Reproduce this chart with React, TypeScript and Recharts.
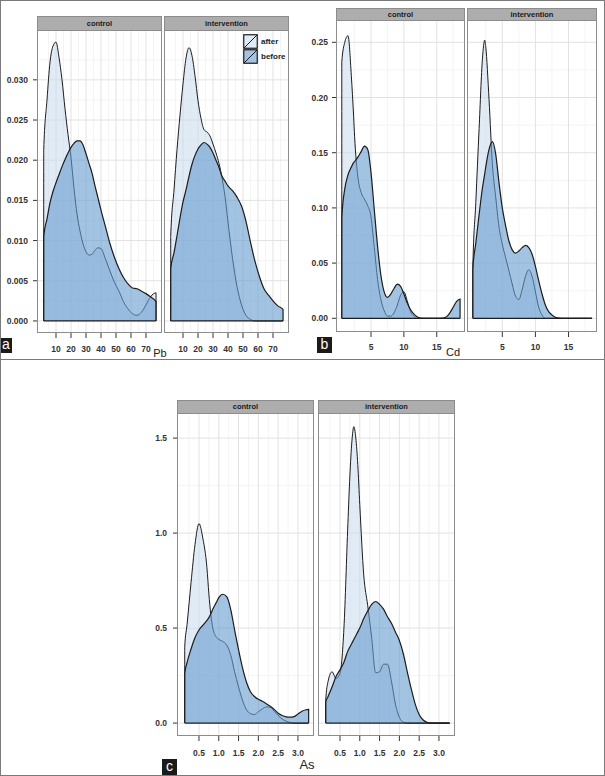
import React from 'react';
import { AreaChart, Area, XAxis, YAxis, CartesianGrid, ReferenceLine } from 'recharts';

// ---------- Pb (panel a) ----------
const pbX = [1.8, 4, 6, 8, 10, 12, 14, 16, 18, 20, 22, 24, 26, 28, 30, 32, 34, 36, 38, 40, 43, 46, 49, 52, 55, 58, 61, 64, 67, 70, 73, 76.7];
const pbControlAfter = [0.0212, 0.0275, 0.0322, 0.0342, 0.0347, 0.0328, 0.0300, 0.0264, 0.0232, 0.0203, 0.0165, 0.0133, 0.0112, 0.0096, 0.0086, 0.0082, 0.0083, 0.0088, 0.0091, 0.0090, 0.0077, 0.0062, 0.0048, 0.0037, 0.0024, 0.0015, 0.0009, 0.0007, 0.0011, 0.0020, 0.0030, 0.0035];
const pbControlBefore = [0.0105, 0.0127, 0.0147, 0.0161, 0.0172, 0.0182, 0.0192, 0.0201, 0.0209, 0.0216, 0.0221, 0.0224, 0.0224, 0.0219, 0.0208, 0.0196, 0.0184, 0.0168, 0.0153, 0.0138, 0.0117, 0.0096, 0.0079, 0.0065, 0.0054, 0.0046, 0.0041, 0.0040, 0.0037, 0.0034, 0.0030, 0.0024];
const pbInterventionAfter = [0.0105, 0.0163, 0.0213, 0.0256, 0.0295, 0.0327, 0.0340, 0.0330, 0.0305, 0.0274, 0.0252, 0.0238, 0.0235, 0.0230, 0.0220, 0.0209, 0.0196, 0.0178, 0.0155, 0.0123, 0.0078, 0.0043, 0.0020, 0.0007, 0.0002, 0, 0, 0, 0, 0, 0, 0];
const pbInterventionBefore = [0.0065, 0.0085, 0.0106, 0.0128, 0.0148, 0.0163, 0.0180, 0.0195, 0.0206, 0.0214, 0.0219, 0.0222, 0.0220, 0.0216, 0.0209, 0.0200, 0.0191, 0.0180, 0.0174, 0.0168, 0.0162, 0.0154, 0.0143, 0.0124, 0.0098, 0.0074, 0.0055, 0.0040, 0.0032, 0.0025, 0.0019, 0.0014];
const pbXTicks = [10, 20, 30, 40, 50, 60, 70];
const pbYTicks = [0, 0.005, 0.01, 0.015, 0.02, 0.025, 0.03];
const pbXMinor = [5, 15, 25, 35, 45, 55, 65, 75];
const pbYMinor = [0.0025, 0.0075, 0.0125, 0.0175, 0.0225, 0.0275, 0.0325];

// ---------- Cd (panel b) ----------
const cdX = [0.55, 1, 1.5, 2, 2.35, 2.5, 3, 3.5, 4, 4.5, 5, 5.5, 6, 6.5, 7, 7.5, 8, 8.5, 9, 9.5, 10, 10.5, 11, 11.5, 12, 12.5, 13, 14, 15, 16, 16.5, 17, 17.5, 18, 18.55];
const cdControlAfter = [0.232, 0.250, 0.256, 0.220, 0.183, 0.165, 0.128, 0.114, 0.108, 0.102, 0.092, 0.064, 0.035, 0.017, 0.007, 0.002, 0.002, 0.005, 0.012, 0.021, 0.024, 0.016, 0.006, 0.002, 0, 0, 0, 0, 0, 0, 0, 0, 0, 0, 0];
const cdControlBefore = [0.091, 0.117, 0.130, 0.137, 0.141, 0.142, 0.146, 0.151, 0.156, 0.153, 0.132, 0.098, 0.065, 0.039, 0.024, 0.019, 0.022, 0.027, 0.031, 0.029, 0.022, 0.014, 0.008, 0.004, 0.0015, 0.0003, 0, 0, 0, 0.0003, 0.0015, 0.005, 0.010, 0.015, 0.0175];
const cdInterventionAfter = [0.045, 0.105, 0.172, 0.235, 0.252, 0.246, 0.198, 0.140, 0.110, 0.083, 0.067, 0.055, 0.043, 0.031, 0.020, 0.017, 0.026, 0.038, 0.044, 0.038, 0.024, 0.010, 0.003, 0, 0, 0, 0, 0, 0, 0, 0, 0, 0, 0, 0];
const cdInterventionBefore = [0.045, 0.068, 0.094, 0.118, 0.131, 0.137, 0.153, 0.160, 0.149, 0.123, 0.100, 0.084, 0.070, 0.062, 0.059, 0.061, 0.064, 0.066, 0.064, 0.058, 0.047, 0.034, 0.022, 0.012, 0.006, 0.003, 0.001, 0, 0, 0, 0, 0, 0, 0, 0];
const cdXTicks = [5, 10, 15];
const cdYTicks = [0, 0.05, 0.1, 0.15, 0.2, 0.25];
const cdXMinor = [2.5, 7.5, 12.5, 17.5];
const cdYMinor = [0.025, 0.075, 0.125, 0.175, 0.225];

// ---------- As (panel c) ----------
const asX = [0.14, 0.2, 0.3, 0.4, 0.5, 0.6, 0.7, 0.75, 0.8, 0.85, 0.9, 0.95, 1.0, 1.1, 1.2, 1.3, 1.4, 1.5, 1.6, 1.7, 1.8, 1.9, 2.0, 2.1, 2.2, 2.3, 2.4, 2.5, 2.6, 2.7, 2.8, 2.9, 3.0, 3.1, 3.2, 3.27];
const asControlAfter = [0.40, 0.52, 0.74, 0.94, 1.05, 0.97, 0.82, 0.68, 0.57, 0.50, 0.465, 0.45, 0.44, 0.43, 0.41, 0.36, 0.27, 0.19, 0.12, 0.07, 0.05, 0.045, 0.06, 0.075, 0.085, 0.084, 0.062, 0.040, 0.022, 0.010, 0.003, 0, 0, 0, 0, 0];
const asControlBefore = [0.26, 0.32, 0.39, 0.45, 0.49, 0.515, 0.54, 0.555, 0.575, 0.60, 0.62, 0.64, 0.66, 0.678, 0.665, 0.60, 0.49, 0.385, 0.29, 0.215, 0.165, 0.14, 0.125, 0.115, 0.102, 0.088, 0.072, 0.052, 0.040, 0.033, 0.031, 0.034, 0.048, 0.062, 0.070, 0.072];
const asInterventionAfter = [0.12, 0.22, 0.27, 0.235, 0.26, 0.50, 1.05, 1.30, 1.48, 1.56, 1.50, 1.36, 1.15, 0.78, 0.62, 0.45, 0.265, 0.27, 0.31, 0.31, 0.22, 0.10, 0.03, 0.005, 0, 0, 0, 0, 0, 0, 0, 0, 0, 0, 0, 0];
const asInterventionBefore = [0.11, 0.14, 0.19, 0.245, 0.28, 0.32, 0.38, 0.40, 0.42, 0.44, 0.46, 0.48, 0.50, 0.55, 0.59, 0.625, 0.64, 0.625, 0.60, 0.56, 0.525, 0.48, 0.435, 0.365, 0.27, 0.18, 0.10, 0.045, 0.016, 0.004, 0, 0, 0, 0, 0, 0];
const asXTicks = [0.5, 1.0, 1.5, 2.0, 2.5, 3.0];
const asYTicks = [0, 0.5, 1.0, 1.5];
const asXMinor = [0.25, 0.75, 1.25, 1.75, 2.25, 2.75, 3.25];
const asYMinor = [0.25, 0.75, 1.25];

const facetLabels = ['control', 'intervention'];
const legendLabels = ['after', 'before'];
const axisTitles = ['Pb', 'Cd', 'As'];
const panelTags = ['a', 'b', 'c'];

const FONT = '"Liberation Sans", Arial, Helvetica, sans-serif';
const AFTER_FILL = '#c6dbef';
const AFTER_OPACITY = 0.55;
const BEFORE_FILL = '#659bcf';
const BEFORE_OPACITY = 0.6;
const LINE = '#1c1c1c';

type Row = { x: number; after: number; before: number };

function buildRows(xs: number[], after: number[], before: number[]): Row[] {
  const n = xs.length;
  const rows = xs.map((x, i) => ({ x, after: after[i], before: before[i] }));
  // close the density polygons at both ends (vertical edges down to zero)
  return [{ x: xs[0], after: 0, before: 0 }, ...rows, { x: xs[n - 1], after: 0, before: 0 }];
}

type Rect = { x: number; y: number; w: number; h: number };

type FacetProps = {
  rows: Row[];
  xs: number[];
  plot: Rect;
  stripTop: number;
  label: string;
  showY: boolean;
  yAxisW: number;
  xAxisH: number;
  xDomain: [number, number];
  yDomain: [number, number];
  xTicks: number[];
  yTicks: number[];
  xMinor: number[];
  yMinor: number[];
  xFmt: (v: number) => string;
  yFmt: (v: number) => string;
  xTickMargin: number;
  yTickMargin: number;
};

const tickStyle = { fontSize: 8.5, fontWeight: 700, fill: '#333', fontFamily: FONT };

function Facet(p: FacetProps) {
  const yw = p.showY ? p.yAxisW : 0;
  const cw = p.plot.w + yw;
  const ch = p.plot.h + p.xAxisH;
  return (
    <>
      <div style={{ position: 'absolute', left: p.plot.x - yw, top: p.plot.y, width: cw, height: ch }}>
        <AreaChart width={cw} height={ch} data={p.rows} margin={{ top: 0, right: 0, bottom: 0, left: 0 }}>
          <CartesianGrid stroke="#f1f1f1" strokeWidth={0.8} horizontalValues={p.yMinor} verticalValues={p.xMinor} />
          <CartesianGrid stroke="#e2e2e2" strokeWidth={1} horizontalValues={p.yTicks} verticalValues={p.xTicks} />
          <XAxis
            type="number"
            dataKey="x"
            domain={p.xDomain}
            allowDataOverflow
            ticks={p.xTicks}
            interval={0}
            height={p.xAxisH}
            axisLine={false}
            tickLine={{ stroke: '#333', strokeWidth: 1 }}
            tickSize={5}
            tickMargin={p.xTickMargin}
            tick={tickStyle}
            tickFormatter={p.xFmt}
          />
          <YAxis
            type="number"
            domain={p.yDomain}
            allowDataOverflow
            ticks={p.yTicks}
            interval={0}
            hide={!p.showY}
            width={yw}
            axisLine={false}
            tickLine={{ stroke: '#333', strokeWidth: 1 }}
            tickSize={4}
            tickMargin={p.yTickMargin}
            tick={tickStyle}
            tickFormatter={p.yFmt}
          />
          <Area
            type="monotone"
            dataKey="after"
            baseValue={0}
            stroke={LINE}
            strokeWidth={1}
            fill={AFTER_FILL}
            fillOpacity={AFTER_OPACITY}
            dot={false}
            activeDot={false}
            isAnimationActive={false}
          />
          <Area
            type="monotone"
            dataKey="before"
            baseValue={0}
            stroke={LINE}
            strokeWidth={1.2}
            fill={BEFORE_FILL}
            fillOpacity={BEFORE_OPACITY}
            dot={false}
            activeDot={false}
            isAnimationActive={false}
          />
          <ReferenceLine
            segment={[{ x: p.xs[0], y: 0 }, { x: p.xs[p.xs.length - 1], y: 0 }]}
            stroke={LINE}
            strokeWidth={1.2}
          />
        </AreaChart>
      </div>
      <div
        style={{
          position: 'absolute',
          left: p.plot.x,
          top: p.plot.y,
          width: p.plot.w,
          height: p.plot.h,
          border: '1px solid #8c8c8c',
          boxSizing: 'border-box',
          pointerEvents: 'none',
        }}
      />
      <div
        style={{
          position: 'absolute',
          left: p.plot.x,
          top: p.stripTop,
          width: p.plot.w,
          height: p.plot.y - p.stripTop + 1,
          background: '#adadad',
          border: '1px solid #8c8c8c',
          boxSizing: 'border-box',
          display: 'flex',
          alignItems: 'center',
          justifyContent: 'center',
          fontFamily: FONT,
          fontSize: 7.5,
          fontWeight: 700,
          color: '#1a1a1a',
          lineHeight: 1,
        }}
      >
        {p.label}
      </div>
    </>
  );
}

function Tag({ text, left, top, w, h }: { text: string; left: number; top: number; w: number; h: number }) {
  return (
    <div
      style={{
        position: 'absolute',
        left,
        top,
        width: w,
        height: h,
        background: '#1a1a1a',
        color: '#fff',
        fontFamily: FONT,
        fontSize: 14,
        lineHeight: `${h - 2}px`,
        textAlign: 'center',
      }}
    >
      {text}
    </div>
  );
}

function AxisTitle({ text, cx, top, size }: { text: string; cx: number; top: number; size: number }) {
  return (
    <div
      style={{
        position: 'absolute',
        left: cx - 20,
        width: 40,
        top,
        textAlign: 'center',
        fontFamily: FONT,
        fontSize: size,
        lineHeight: `${size}px`,
        color: '#222',
      }}
    >
      {text}
    </div>
  );
}

function LegendKey({ fill, opacity }: { fill: string; opacity: number }) {
  return (
    <svg width={15} height={15} style={{ display: 'block' }}>
      <rect x={0} y={0} width={15} height={15} fill="#fff" />
      <rect x={0.75} y={0.75} width={13.5} height={13.5} fill={fill} fillOpacity={opacity} stroke={LINE} strokeWidth={1.2} />
      <line x1={1} y1={14} x2={14} y2={1} stroke={LINE} strokeWidth={1} />
    </svg>
  );
}

function DensityLegend({ left, top }: { left: number; top: number }) {
  const items = [
    { label: legendLabels[0], fill: AFTER_FILL, op: AFTER_OPACITY },
    { label: legendLabels[1], fill: BEFORE_FILL, op: BEFORE_OPACITY },
  ];
  return (
    <div style={{ position: 'absolute', left, top }}>
      {items.map((it) => (
        <div key={it.label} style={{ display: 'flex', alignItems: 'center', height: 15 }}>
          <LegendKey fill={it.fill} opacity={it.op} />
          <span style={{ marginLeft: 3, fontFamily: FONT, fontSize: 8, fontWeight: 700, color: '#222' }}>{it.label}</span>
        </div>
      ))}
    </div>
  );
}

const f3 = (v: number) => v.toFixed(3);
const f2 = (v: number) => v.toFixed(2);
const f1 = (v: number) => v.toFixed(1);
const f0 = (v: number) => String(v);

export default function App() {
  const pbC = buildRows(pbX, pbControlAfter, pbControlBefore);
  const pbI = buildRows(pbX, pbInterventionAfter, pbInterventionBefore);
  const cdC = buildRows(cdX, cdControlAfter, cdControlBefore);
  const cdI = buildRows(cdX, cdInterventionAfter, cdInterventionBefore);
  const asC = buildRows(asX, asControlAfter, asControlBefore);
  const asI = buildRows(asX, asInterventionAfter, asInterventionBefore);

  const pbCommon = {
    xs: pbX,
    stripTop: 16,
    yAxisW: 37,
    xAxisH: 20,
    xDomain: [-2.67, 80.67] as [number, number],
    yDomain: [-0.0015, 0.0362] as [number, number],
    xTicks: pbXTicks,
    yTicks: pbYTicks,
    xMinor: pbXMinor,
    yMinor: pbYMinor,
    xFmt: f0,
    yFmt: f3,
    xTickMargin: 8,
    yTickMargin: 5,
  };
  const cdCommon = {
    xs: cdX,
    stripTop: 8,
    yAxisW: 36,
    xAxisH: 20,
    xDomain: [-0.33, 19.3] as [number, number],
    yDomain: [-0.0124, 0.2702] as [number, number],
    xTicks: cdXTicks,
    yTicks: cdYTicks,
    xMinor: cdXMinor,
    yMinor: cdYMinor,
    xFmt: f0,
    yFmt: f2,
    xTickMargin: 7,
    yTickMargin: 4,
  };
  const asCommon = {
    xs: asX,
    stripTop: 400,
    yAxisW: 30,
    xAxisH: 22,
    xDomain: [-0.055, 3.405] as [number, number],
    yDomain: [-0.068, 1.632] as [number, number],
    xTicks: asXTicks,
    yTicks: asYTicks,
    xMinor: asXMinor,
    yMinor: asYMinor,
    xFmt: f1,
    yFmt: f1,
    xTickMargin: 9,
    yTickMargin: 6,
  };

  return (
    <div
      style={{
        position: 'absolute',
        left: 0,
        top: 0,
        width: 605,
        height: 776,
        background: '#fff',
        overflow: 'hidden',
        fontFamily: FONT,
      }}
    >
      <div style={{ position: 'absolute', left: 0, top: 0, width: 605, height: 359, overflow: 'hidden' }}>
        {/* panel a */}
        <Facet {...pbCommon} rows={pbC} plot={{ x: 37, y: 30, w: 125, h: 303 }} label={facetLabels[0]} showY />
        <Facet {...pbCommon} rows={pbI} plot={{ x: 164, y: 30, w: 125, h: 303 }} label={facetLabels[1]} showY={false} />
        <DensityLegend left={243} top={34} />
        <AxisTitle text={axisTitles[0]} cx={160} top={348} size={11} />
        <Tag text={panelTags[0]} left={0} top={338} w={12} h={15} />

        {/* panel b */}
        <Facet {...cdCommon} rows={cdC} plot={{ x: 336, y: 20, w: 129, h: 312 }} label={facetLabels[0]} showY />
        <Facet {...cdCommon} rows={cdI} plot={{ x: 467, y: 20, w: 130, h: 312 }} label={facetLabels[1]} showY={false} />
        <AxisTitle text={axisTitles[1]} cx={453} top={347} size={11} />
        <Tag text={panelTags[1]} left={317} top={337} w={15} h={16} />
      </div>

      {/* panel c */}
      <Facet {...asCommon} rows={asC} plot={{ x: 177, y: 413, w: 137, h: 323 }} label={facetLabels[0]} showY />
      <Facet {...asCommon} rows={asI} plot={{ x: 318, y: 413, w: 137, h: 323 }} label={facetLabels[1]} showY={false} />
      <AxisTitle text={axisTitles[2]} cx={307} top={758} size={13} />
      <Tag text={panelTags[2]} left={162} top={759} w={15} h={17} />

      {/* figure frame */}
      <div style={{ position: 'absolute', left: 0, top: 359, width: 605, height: 1, background: '#7a7a7a' }} />
      <div
        style={{
          position: 'absolute',
          left: 0,
          top: 0,
          width: 605,
          height: 776,
          border: '1px solid #7a7a7a',
          boxSizing: 'border-box',
          pointerEvents: 'none',
        }}
      />
    </div>
  );
}
